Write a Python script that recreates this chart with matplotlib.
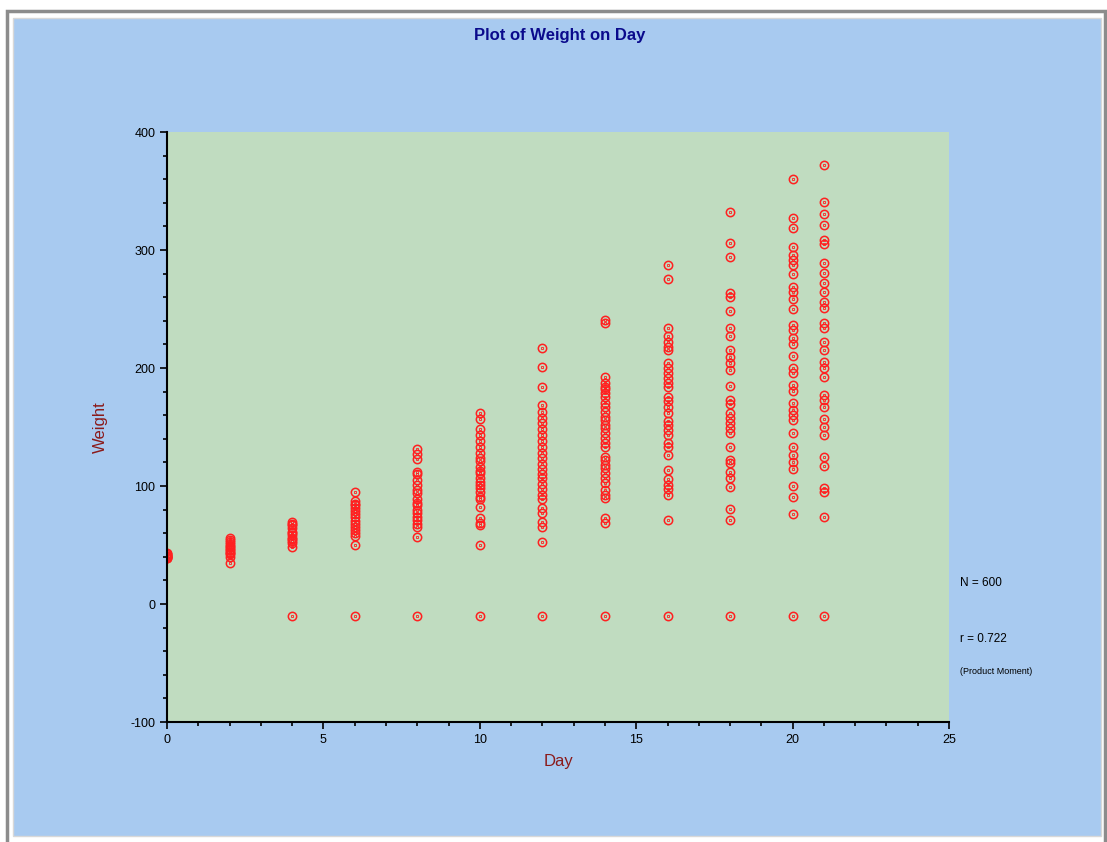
import matplotlib
matplotlib.use('Agg')
import matplotlib.pyplot as plt
from matplotlib.patches import Rectangle
from matplotlib.ticker import MultipleLocator

plt.rcParams['font.family'] = ['Liberation Sans', 'DejaVu Sans']
plt.rcParams['axes.unicode_minus'] = False

# weights, per day (-10 = missing code plotted below zero)
days = [0, 2, 4, 6, 8, 10, 12, 14, 16, 18, 20, 21]
weights = {
    0: [43, 42, 41, 40, 39, 42, 41, 41, 40, 39],
    2: [55.6, 54, 52.8, 51, 49, 48.6, 47, 46, 44.3, 43, 42, 40.1, 35],
    4: [69.7, 68, 66.9, 64, 61.3, 60, 58.5, 56, 54.8, 53, 51.4, 48.6, -10],
    6: [95.2, 87.6, 85, 83.9, 81, 79.1, 76, 73.5, 70, 67.8, 65, 62.7, 60, 57.6, 50.3, -10],
    8: [131.1, 127, 123.2, 112.1, 110, 105.1, 100.8, 96.6, 93.8, 88.7, 86, 83.9,
        79.7, 77, 74, 71.2, 68, 65.5, 56.5, -10],
    10: [162, 157, 148, 143, 138.4, 133.3, 127.7, 124, 121.5, 116.4, 113, 111.3,
         106.5, 103, 100.8, 98, 95.2, 91, 88.7, 82.5, 72.6, 69, 66.9, 50.3, -10],
    12: [217, 201, 184, 169, 163, 158, 153, 148, 143, 138, 133, 128, 124, 119,
         114.1, 110, 106.5, 102, 97.2, 92, 88.7, 81.1, 76.9, 69.7, 65.5, 52.8, -10],
    14: [240.7, 237.9, 192.7, 187.6, 184, 181.9, 178.5, 175.7, 170, 167, 163,
         158.7, 156, 151.7, 148.9, 145, 140.4, 136.2, 133.3, 124.8, 122, 117.8,
         115, 110.7, 106.5, 102.3, 96.6, 92.4, 89.6, 72.6, 68.4, -10],
    16: [287.3, 275.2, 233.6, 227.1, 222.3, 218.1, 215.3, 204, 199.7, 195.5,
         191.3, 187, 183.6, 175.7, 172.3, 167.2, 161.6, 155.3, 151.7, 147.5,
         143.2, 136.2, 133.3, 126.3, 113.6, 105.7, 100.8, 97.2, 92.4, 71.2, -10],
    18: [332, 306, 294.3, 263.3, 260.4, 248.6, 233.6, 227.1, 215.3, 209.6, 204,
         198.3, 184.7, 172.9, 169.5, 161.6, 157.4, 153.1, 148.9, 144.7, 133.3,
         122, 119.2, 112.1, 106.5, 99.4, 80.3, 71.2, -10],
    20: [360.2, 326.8, 318.4, 302.8, 295.8, 291.5, 287.3, 279.4, 268.9, 264.7,
         258.2, 249.7, 236.4, 232.2, 225.1, 220.3, 210.2, 199.7, 195.5, 185.6,
         180.8, 170, 164.4, 160.2, 155.9, 144.6, 132.8, 126.3, 120.6, 114.1, 100,
         90.4, 76.3, -10],
    21: [372, 341, 330.2, 321.2, 308.5, 305.1, 289.2, 280.8, 271.8, 264.7, 256.2,
         250.6, 237.9, 233.6, 222.3, 215.3, 205.4, 199.7, 192.1, 177.1, 172.9,
         167.2, 156.5, 149.7, 143.2, 124.3, 116.9, 98, 95.2, 73.5, -10],
}
n_label = 'N = 600'
r_label = 'r = 0.722'

fig = plt.figure(figsize=(11.07, 8.42), dpi=100, facecolor='white')
# outer grey frame and blue panel
fig.patches.append(Rectangle((0.006, -0.01), 0.992, 0.997, transform=fig.transFigure,
                             facecolor='white', edgecolor='#8C8C8C', lw=2.5, zorder=-2))
fig.patches.append(Rectangle((0.0118, 0.007), 0.983, 0.972, transform=fig.transFigure,
                             facecolor='#A8CAF0', edgecolor='#D8D8D8', lw=1, zorder=-1))

ax = fig.add_axes([0.1509, 0.1425, 0.7064, 0.7007])
ax.set_facecolor('#C0DCC0')

for d in days:
    ys = weights[d]
    xs = [d] * len(ys)
    ax.plot(xs, ys, linestyle='none', marker='o', ms=6, mfc='none', mec='#FF2020',
            mew=1.1)
    ax.plot(xs, ys, linestyle='none', marker='s', ms=1.5, mfc='none', mec='#FF2020',
            mew=0.6)

ax.set_xlim(0, 25)
ax.set_ylim(-100, 400)
ax.xaxis.set_major_locator(MultipleLocator(5))
ax.xaxis.set_minor_locator(MultipleLocator(1))
ax.yaxis.set_major_locator(MultipleLocator(100))
ax.yaxis.set_minor_locator(MultipleLocator(20))
ax.tick_params(which='major', length=5, width=1.2, labelsize=9, colors='black')
ax.tick_params(which='minor', length=3, width=1.2)
for s in ['top', 'right']:
    ax.spines[s].set_visible(False)
for s in ['left', 'bottom']:
    ax.spines[s].set_linewidth(1.5)

ax.set_xlabel('Day', fontsize=12, color='#8B1A1A', labelpad=6)
ax.set_ylabel('Weight', fontsize=12, color='#8B1A1A', labelpad=16)

fig.text(0.506, 0.958, 'Plot of Weight on Day', ha='center', va='center',
         fontsize=12, fontweight='bold', color='#0A0A8C')
fig.text(0.867, 0.308, n_label, fontsize=8.5, va='center')
fig.text(0.867, 0.241, r_label, fontsize=8.5, va='center')
fig.text(0.867, 0.202, '(Product Moment)', fontsize=6.5, va='center')

fig.savefig('out.png', dpi=100, facecolor=fig.get_facecolor())
